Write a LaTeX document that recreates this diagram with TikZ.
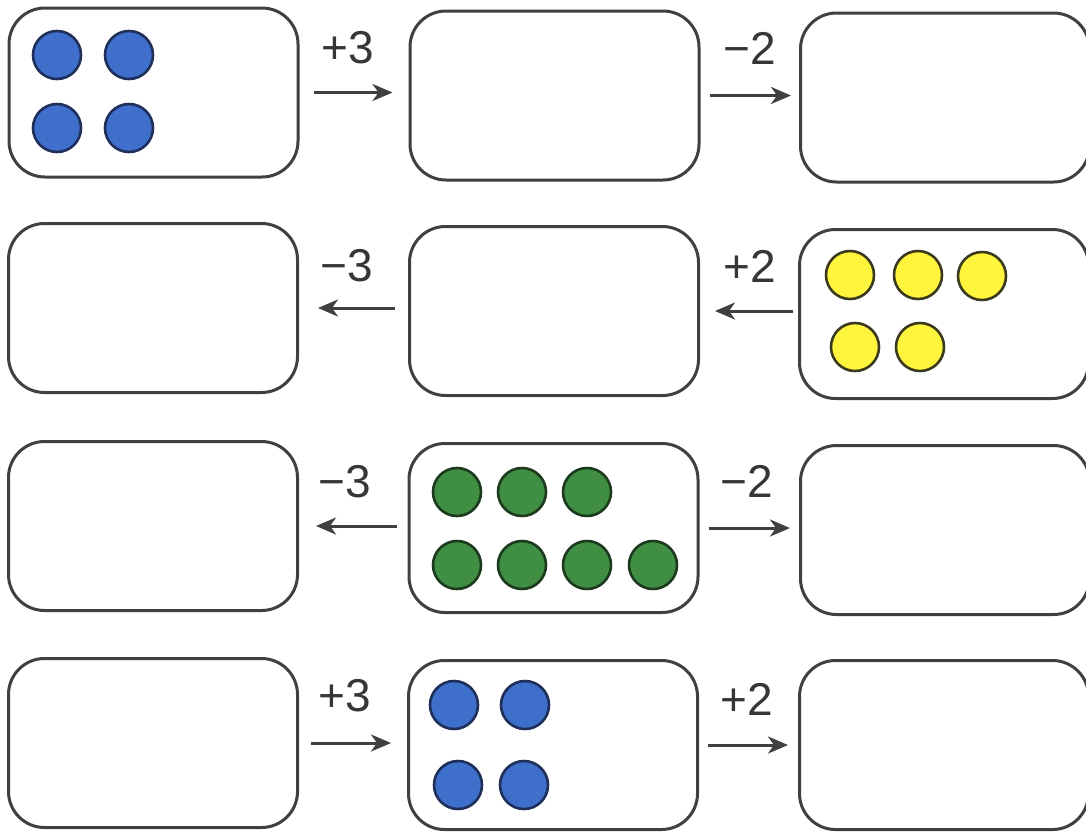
\documentclass[tikz,border=0pt]{standalone}
\usepackage{fontspec}
\setmainfont{Liberation Sans}
\usetikzlibrary{arrows.meta}
\definecolor{linegray}{HTML}{404040}
\definecolor{textgray}{HTML}{363636}
\definecolor{bluefill}{HTML}{3D6FCB}
\definecolor{blueline}{HTML}{1F2F5A}
\definecolor{yellowfill}{HTML}{FFF53C}
\definecolor{yellowline}{HTML}{3C3A1E}
\definecolor{greenfill}{HTML}{3F8E44}
\definecolor{greenline}{HTML}{1C3A1E}
\begin{document}
\begin{tikzpicture}[x=1pt,y=-1pt,
  box/.style={draw=linegray, line width=3pt, rounded corners=36pt, minimum width=289pt, minimum height=169pt, inner sep=0pt},
  dot/.style={circle, line width=2.6pt, minimum size=48pt, inner sep=0pt},
  bdot/.style={dot, draw=blueline, fill=bluefill},
  ydot/.style={dot, draw=yellowline, fill=yellowfill},
  gdot/.style={dot, draw=greenline, fill=greenfill},
  arr/.style={draw=linegray, line width=3pt, -{Stealth[length=20pt,width=17pt,inset=6pt]}},
  lbl/.style={text=textgray, font=\fontsize{46pt}{46pt}\selectfont, inner sep=0pt}
]
\useasboundingbox[fill=white] (0,0) rectangle (1086,831);

% boxes
\node[box] (b11) at (153.5,92.5) {};
\node[box] (b12) at (554.5,95.5) {};
\node[box] (b13) at (945,97.5) {};
\node[box] (b21) at (153,308) {};
\node[box] (b22) at (554,311) {};
\node[box] (b23) at (944,314) {};
\node[box] (b31) at (153,526) {};
\node[box] (b32) at (553.5,528) {};
\node[box] (b33) at (945,530) {};
\node[box] (b41) at (153,743) {};
\node[box] (b42) at (553,745) {};
\node[box] (b43) at (944,745) {};

% dots
\node[bdot] (p1) at (57,55) {};
\node[bdot] (p2) at (129,55) {};
\node[bdot] (p3) at (57,128) {};
\node[bdot] (p4) at (129,128) {};

\node[ydot] (y1) at (850,275) {};
\node[ydot] (y2) at (918,275) {};
\node[ydot] (y3) at (982,276) {};
\node[ydot] (y4) at (855,347) {};
\node[ydot] (y5) at (920,347) {};

\node[gdot] (g1) at (457,492) {};
\node[gdot] (g2) at (522,492) {};
\node[gdot] (g3) at (587,492) {};
\node[gdot] (g4) at (457,565) {};
\node[gdot] (g5) at (522,565) {};
\node[gdot] (g6) at (587,565) {};
\node[gdot] (g7) at (653,565) {};

\node[bdot] (q1) at (454,705) {};
\node[bdot] (q2) at (525,705) {};
\node[bdot] (q3) at (458,785) {};
\node[bdot] (q4) at (524,785) {};

% arrows
\draw[arr, shorten <=14pt, shorten >=16pt] (b11.east) -- (b11.east -| b12.west);
\draw[arr, shorten <=9pt, shorten >=8pt] (b12.east) -- (b12.east -| b13.west);
\draw[arr, shorten <=13pt, shorten >=19pt] (b21.east -| b22.west) -- (b21.east);
\draw[arr, shorten <=5pt, shorten >=15pt] (b22.east -| b23.west) -- (b22.east);
\draw[arr, shorten <=11pt, shorten >=17pt] (b31.east -| b32.west) -- (b31.east);
\draw[arr, shorten <=9pt, shorten >=9pt] (b32.east) -- (b32.east -| b33.west);
\draw[arr, shorten <=12pt, shorten >=16pt] (b41.east) -- (b41.east -| b42.west);
\draw[arr, shorten <=9pt, shorten >=10pt] (b42.east) -- (b42.east -| b43.west);

% labels
\node[lbl] (l1) at (348,48) {+3};
\node[lbl] (l2) at (750,48) {−2};
\node[lbl] (l3) at (347,266) {−3};
\node[lbl] (l4) at (750,266) {+2};
\node[lbl] (l5) at (345,482) {−3};
\node[lbl] (l6) at (747,481) {−2};
\node[lbl] (l7) at (345,696) {+3};
\node[lbl] (l8) at (747,699) {+2};
\end{tikzpicture}
\end{document}
